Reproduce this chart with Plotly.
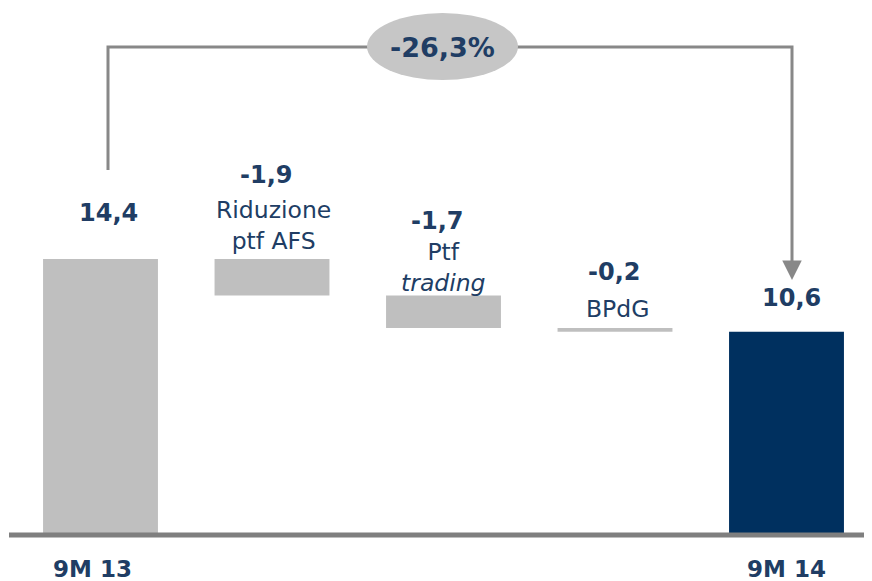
import plotly.graph_objects as go

categories = ["9M 13", "Riduzione ptf AFS", "Ptf trading", "BPdG", "9M 14"]
values = [14.4, -1.9, -1.7, -0.2, 10.6]
measures = ["absolute", "relative", "relative", "relative", "total"]
value_labels = ["14,4", "-1,9", "-1,7", "-0,2", "10,6"]
desc_labels = ["", "Riduzione<br>ptf AFS", "Ptf<br><i>trading</i>", "BPdG", ""]
axis_labels = ["9M 13", "", "", "", "9M 14"]
change_label = "-26,3%"

GREY = "#BFBFBF"
NAVY = "#00305F"
TEXT = "#203D64"
LINE = "#888888"
FONT = "DejaVu Sans"

# compute bar bases / tops from data
bases, heights, tops = [], [], []
running = 0.0
for v, m in zip(values, measures):
    if m in ("absolute", "total"):
        bases.append(0.0)
        heights.append(v)
        running = v
        tops.append(v)
    else:
        new = running + v
        bases.append(new)
        heights.append(-v)
        tops.append(running)
        running = new

colors = [GREY, GREY, GREY, GREY, NAVY]
xs = list(range(len(categories)))


# helpers for decoration placement (page pixel -> axis units)
def px_x(p):
    return (p - 100.5) / 171.5


def px_y(p):
    return (535 - p) / 19.17


fig = go.Figure()
fig.add_trace(go.Bar(x=xs, y=heights, base=bases, width=0.67,
                     marker=dict(color=colors, line=dict(width=0)),
                     hoverinfo="skip"))

annotations = []
val_shift = [46, 84, 74, 56, 34]
val_xshift = [7.5, -6, -6.5, -1.5, 5]
for i in xs:
    annotations.append(dict(x=i, y=tops[i], xref="x", yref="y", text="<b>%s</b>" % value_labels[i],
                            showarrow=False, yshift=val_shift[i], xshift=val_xshift[i],
                            font=dict(family=FONT, size=24, color=TEXT)))
desc_shift = [0, 33.5, 28, 19, 0]
desc_xshift = [0, 1.5, 0, 2.5, 0]
for i in xs:
    if desc_labels[i]:
        annotations.append(dict(x=i, y=tops[i], xref="x", yref="y", text=desc_labels[i],
                                showarrow=False, yshift=desc_shift[i], xshift=desc_xshift[i],
                                font=dict(family=FONT, size=23.5, color=TEXT)))
cat_xshift = [-8, 0, 0, 0, 0]
for i in xs:
    if axis_labels[i]:
        annotations.append(dict(x=i, y=0, xref="x", yref="y", text="<b>%s</b>" % axis_labels[i],
                                showarrow=False, yshift=-34, xshift=cat_xshift[i],
                                font=dict(family=FONT, size=23, color=TEXT)))

# connector: left vertical + top horizontal + right vertical, arrowhead at end
x_left, x_right = px_x(108), px_x(792)
y_top, y_start, y_end = px_y(47), px_y(170), px_y(280)
shapes = [
    dict(type="path",
         path=f"M {x_left},{y_start} L {x_left},{y_top} L {x_right},{y_top} L {x_right},{px_y(268)}",
         xref="x", yref="y", line=dict(color=LINE, width=3), layer="above"),
    dict(type="circle", xref="x", yref="y", x0=px_x(367), x1=px_x(518), y0=px_y(80), y1=px_y(13),
         fillcolor="#C6C6C6", line=dict(width=0), layer="above"),
    dict(type="line", xref="x", yref="y", x0=px_x(9), x1=px_x(880), y0=0, y1=0,
         line=dict(color="#7F7F7F", width=5), layer="above"),
]
annotations.append(dict(x=x_right, y=y_end, ax=x_right, ay=px_y(262), xref="x", yref="y",
                        axref="x", ayref="y", showarrow=True, arrowhead=2, arrowsize=1.3,
                        arrowwidth=3, arrowcolor=LINE, text=""))
annotations.append(dict(x=px_x(442.5), y=px_y(47), xref="x", yref="y",
                        text="<b>%s</b>" % change_label, showarrow=False,
                        font=dict(family=FONT, size=27, color=TEXT)))

# page body has an 8px margin; figure is sized to fit the window exactly
fig.update_layout(
    width=864, height=573,
    margin=dict(l=0, r=0, t=0, b=0),
    paper_bgcolor="white", plot_bgcolor="white",
    showlegend=False,
    xaxis=dict(range=[px_x(8), px_x(872)], visible=False, fixedrange=True),
    yaxis=dict(range=[px_y(581), px_y(8)], visible=False, fixedrange=True),
    shapes=shapes, annotations=annotations,
)

fig.write_html("out.html")
